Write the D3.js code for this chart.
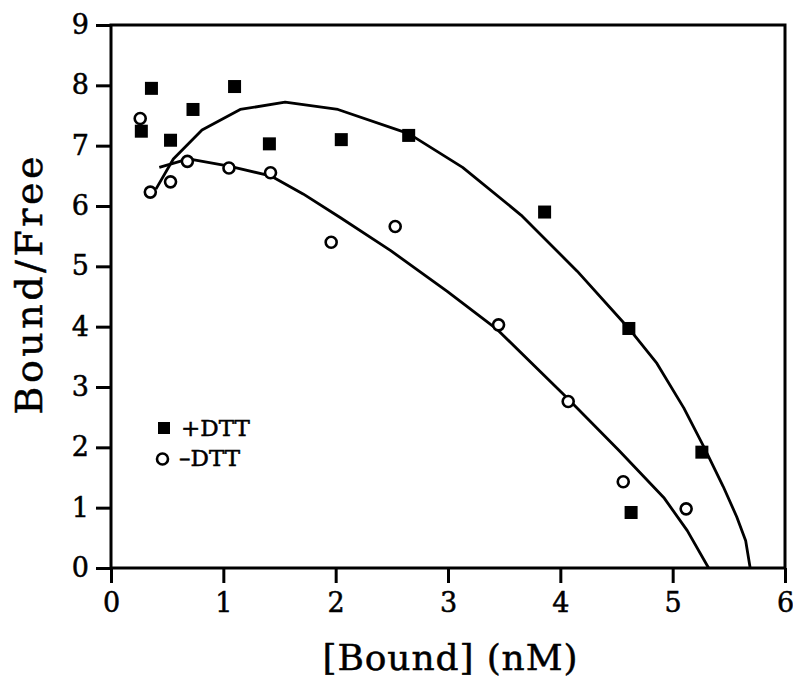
<!DOCTYPE html>
<html>
<head>
<meta charset="utf-8">
<script src="https://cdn.jsdelivr.net/npm/d3@7"></script>
<style>
  body { margin: 0; background: #fff; }
  svg text { font-family: "DejaVu Serif", "Liberation Serif", serif; fill: #000; stroke: #000; stroke-width: 0.5px; }
</style>
</head>
<body>
<div id="chart"></div>
<script>
// measured points, +DTT (filled squares)
const plusX = [0.27, 0.36, 0.53, 0.73, 1.10, 1.41, 2.05, 2.65, 3.86, 4.61, 5.26, 4.63];
const plusY = [7.24, 7.95, 7.09, 7.60, 7.98, 7.03, 7.10, 7.17, 5.90, 3.97, 1.92, 0.92];

// measured points, -DTT (open circles)
const minusX = [0.26, 0.35, 0.53, 0.68, 1.05, 1.42, 1.96, 2.53, 3.45, 4.07, 4.56, 5.12];
const minusY = [7.45, 6.23, 6.40, 6.74, 6.63, 6.55, 5.40, 5.66, 4.03, 2.76, 1.43, 0.98];

// fitted curves
const fitPlusX = [0.40, 0.555, 0.81, 1.15, 1.55, 2.02, 2.65, 3.13, 3.65, 4.15, 4.61, 4.86, 5.10, 5.28, 5.45, 5.57, 5.65, 5.69];
const fitPlusY = [6.28, 6.78, 7.26, 7.60, 7.72, 7.60, 7.20, 6.64, 5.85, 4.92, 3.97, 3.39, 2.65, 2.00, 1.35, 0.85, 0.45, 0.00];
const fitMinusX = [0.43, 0.69, 1.05, 1.42, 1.71, 2.04, 2.49, 2.99, 3.44, 4.05, 4.52, 4.92, 5.13, 5.32];
const fitMinusY = [6.64, 6.78, 6.66, 6.50, 6.20, 5.81, 5.26, 4.59, 3.95, 2.84, 1.95, 1.17, 0.62, 0.00];

const xTicks = [0, 1, 2, 3, 4, 5, 6];
const yTicks = [0, 1, 2, 3, 4, 5, 6, 7, 8, 9];
const legendLabels = ["+DTT", "\u2013DTT"];

const margin = { top: 25, right: 8, bottom: 113, left: 111 },
    width = 785 - margin.left,
    height = 568 - margin.top;

const svg = d3.select("#chart")
    .append("svg")
    .attr("width", 793)
    .attr("height", 681)
    .append("g")
    .attr("transform", `translate(${margin.left},${margin.top})`);

const x = d3.scaleLinear().domain([0, 6]).range([0, width]);
const y = d3.scaleLinear().domain([0, 9]).range([height, 0]);

// frame
svg.append("rect")
    .attr("x", 0).attr("y", 0)
    .attr("width", width).attr("height", height)
    .attr("fill", "none")
    .attr("stroke", "#000")
    .attr("stroke-width", 3);

const xAxis = svg.append("g")
    .attr("transform", `translate(0,${height})`)
    .call(d3.axisBottom(x).tickValues(xTicks).tickFormat(d3.format("d")).tickSize(15).tickPadding(10));
const yAxis = svg.append("g")
    .call(d3.axisLeft(y).tickValues(yTicks).tickFormat(d3.format("d")).tickSize(15).tickPadding(7));

[xAxis, yAxis].forEach(a => {
    a.select(".domain").remove();
    a.selectAll(".tick line").attr("stroke", "#000").attr("stroke-width", 3);
    a.selectAll(".tick text").style("font-size", "27px").attr("fill", "#000");
});

// axis titles
svg.append("text")
    .attr("x", width / 2 + 2)
    .attr("y", height + 102)
    .attr("text-anchor", "middle")
    .attr("textLength", 255)
    .style("font-size", "36px")
    .text("[Bound] (nM)");

svg.append("text")
    .attr("transform", `translate(${-69},${height / 2 - 11}) rotate(-90)`)
    .attr("text-anchor", "middle")
    .attr("textLength", 258)
    .style("font-size", "38px")
    .text("Bound/Free");

// fit lines
const line = d3.line().x(d => x(d[0])).y(d => y(d[1]));
[[fitPlusX, fitPlusY], [fitMinusX, fitMinusY]].forEach(([xs, ys]) => {
    svg.append("path")
        .datum(xs.map((v, i) => [v, ys[i]]))
        .attr("d", line)
        .attr("fill", "none")
        .attr("stroke", "#000")
        .attr("stroke-width", 2.8)
        .attr("stroke-linejoin", "round");
});

// markers
svg.selectAll(".sq")
    .data(plusX.map((v, i) => [v, plusY[i]]))
    .join("rect")
    .attr("x", d => x(d[0]) - 6.5)
    .attr("y", d => y(d[1]) - 6.5)
    .attr("width", 13)
    .attr("height", 13)
    .attr("fill", "#000");

svg.selectAll(".ci")
    .data(minusX.map((v, i) => [v, minusY[i]]))
    .join("circle")
    .attr("cx", d => x(d[0]))
    .attr("cy", d => y(d[1]))
    .attr("r", 5.5)
    .attr("fill", "#fff")
    .attr("stroke", "#000")
    .attr("stroke-width", 2.6);

// legend
const lg = svg.append("g").attr("transform", "translate(53,403)");
lg.append("rect").attr("x", -6).attr("y", -6).attr("width", 12).attr("height", 12).attr("fill", "#000");
lg.append("circle").attr("cx", -1.5).attr("cy", 31).attr("r", 5.5)
    .attr("fill", "#fff").attr("stroke", "#000").attr("stroke-width", 2.6);
lg.selectAll("text")
    .data(legendLabels)
    .join("text")
    .attr("x", (d, i) => i === 0 ? 17 : 15)
    .attr("y", (d, i) => 8 + i * 30)
    .style("font-size", "23px")
    .text(d => d);
</script>
</body>
</html>
